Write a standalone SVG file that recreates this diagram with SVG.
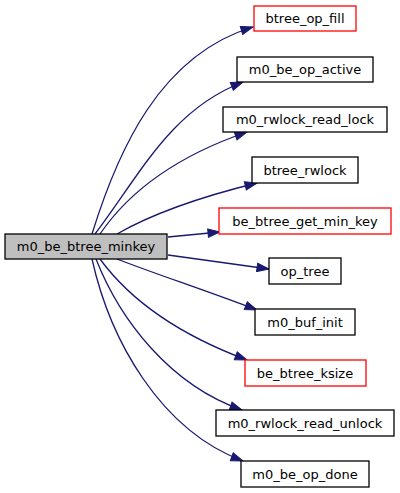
<svg xmlns="http://www.w3.org/2000/svg" width="400" height="493" viewBox="0 0 400 493">
<style>
.n rect{fill:#fff;stroke:#000;stroke-width:1.3}
.n.r rect{stroke:#ff0000}
.n.m rect{fill:#bfbfbf}
.n text{font-family:"DejaVu Sans",sans-serif;font-size:13px;text-anchor:middle;fill:#000}
.e path{fill:none;stroke:#191970;stroke-width:1.3}
</style>
<defs>
<marker id="a" markerUnits="userSpaceOnUse" markerWidth="14" markerHeight="10" refX="13" refY="5" orient="auto">
<path d="M1,0.8 L13,5 L1,9.2 z" fill="#191970" stroke="#191970" stroke-width="1"/>
</marker>
</defs>
<g class="e">
<path d="M92,234 C118,150 160,55 253,27" marker-end="url(#a)"/>
<path d="M95,234 C140,175 170,110 243,82" marker-end="url(#a)"/>
<path d="M100,234 C130,190 180,155 247,132" marker-end="url(#a)"/>
<path d="M117,234 C150,215 200,197 257,183" marker-end="url(#a)"/>
<path d="M168,237 L220,232" marker-end="url(#a)"/>
<path d="M168,255 L269,269" marker-end="url(#a)"/>
<path d="M117,259 C150,272 210,292 257,310" marker-end="url(#a)"/>
<path d="M100,259 C130,300 180,335 247,360" marker-end="url(#a)"/>
<path d="M96,259 C120,320 170,385 242,410" marker-end="url(#a)"/>
<path d="M92,259 C110,340 160,430 243,461" marker-end="url(#a)"/>
</g>
<g id="m0_be_btree_minkey" class="n m"><rect x="5" y="234" width="162" height="25"/><text x="86" y="251">m0_be_btree_minkey</text></g>
<g id="btree_op_fill" class="n r"><rect x="254" y="6" width="102" height="25"/><text x="305" y="23">btree_op_fill</text></g>
<g id="m0_be_op_active" class="n"><rect x="237" y="57" width="136" height="25"/><text x="305" y="74">m0_be_op_active</text></g>
<g id="m0_rwlock_read_lock" class="n"><rect x="223" y="107" width="164" height="25"/><text x="305" y="124">m0_rwlock_read_lock</text></g>
<g id="btree_rwlock" class="n"><rect x="252" y="157" width="106" height="26"/><text x="305" y="175">btree_rwlock</text></g>
<g id="be_btree_get_min_key" class="n r"><rect x="219" y="208" width="172" height="26"/><text x="305" y="226">be_btree_get_min_key</text></g>
<g id="op_tree" class="n"><rect x="269" y="258" width="72" height="26"/><text x="305" y="276">op_tree</text></g>
<g id="m0_buf_init" class="n"><rect x="255" y="309" width="100" height="26"/><text x="305" y="327">m0_buf_init</text></g>
<g id="be_btree_ksize" class="n r"><rect x="245" y="360" width="121" height="26"/><text x="305" y="378">be_btree_ksize</text></g>
<g id="m0_rwlock_read_unlock" class="n"><rect x="216" y="410" width="178" height="26"/><text x="305" y="428">m0_rwlock_read_unlock</text></g>
<g id="m0_be_op_done" class="n"><rect x="241" y="461" width="128" height="26"/><text x="305" y="479">m0_be_op_done</text></g>
</svg>
